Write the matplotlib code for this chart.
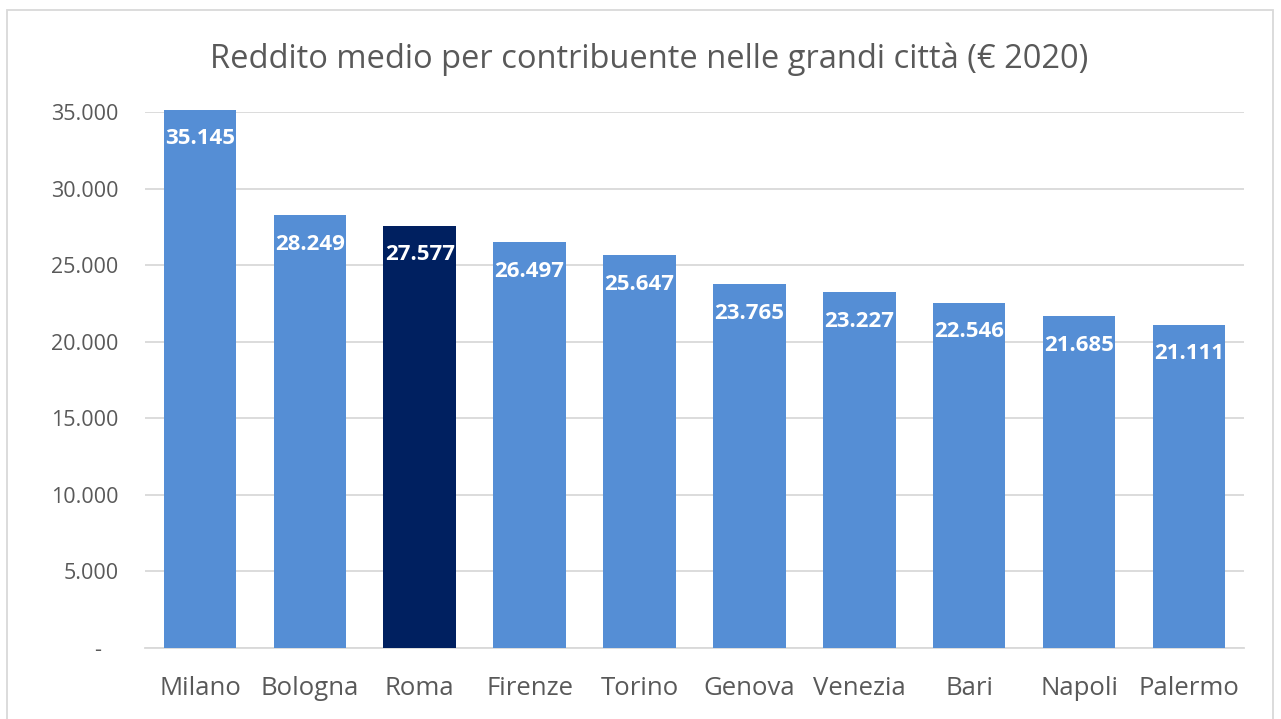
import matplotlib.pyplot as plt
from matplotlib.patches import Rectangle
from matplotlib.ticker import FuncFormatter

cities = ["Milano", "Bologna", "Roma", "Firenze", "Torino", "Genova", "Venezia", "Bari", "Napoli", "Palermo"]
redditi = [35145, 28249, 27577, 26497, 25647, 23765, 23227, 22546, 21685, 21111]
highlight = "Roma"

plt.rcParams['font.family'] = ['Open Sans', 'DejaVu Sans']

fig = plt.figure(figsize=(12.81, 7.19), dpi=100)
ax = fig.add_axes([0.1132, 0.0987, 0.8578, 0.7455])

colors = ['#002060' if c == highlight else '#558ED5' for c in cities]
bars = ax.bar(cities, redditi, width=0.66, color=colors, zorder=3, clip_on=False)

def it_fmt(v, pos=None):
    if v == 0:
        return "-   "
    return f"{int(v):,}".replace(",", ".")

for b, v in zip(bars, redditi):
    ax.text(b.get_x() + b.get_width() / 2, v - 1900, it_fmt(v), ha='center', va='center',
            color='white', fontsize=16, fontweight='bold', zorder=4)

ax.set_ylim(0, 35000)
ax.set_xlim(-0.5, len(cities) - 0.5)
ax.set_yticks(range(0, 35001, 5000))
ax.yaxis.set_major_formatter(FuncFormatter(it_fmt))
ax.grid(axis='y', color='#D9D9D9', linewidth=1.3, zorder=0)
for s in ['top', 'right', 'left']:
    ax.spines[s].set_visible(False)
ax.spines['bottom'].set_color('#D9D9D9')
ax.spines['bottom'].set_linewidth(1.3)
ax.tick_params(axis='both', length=0, colors='#595959')
ax.tick_params(axis='y', labelsize=15.5, pad=19)
ax.tick_params(axis='x', labelsize=18.5, pad=20)

fig.text(0.507, 0.918, "Reddito medio per contribuente nelle grandi città (€ 2020)",
         ha='center', va='center', fontsize=23.5, color='#595959')

fig.patches.append(Rectangle((7 / 1281, -0.01), 1266 / 1281, 1 - 10 / 719 + 0.01,
                             transform=fig.transFigure, fill=False, edgecolor='#D9D9D9', linewidth=1.3))

plt.savefig("out.png", dpi=100)
